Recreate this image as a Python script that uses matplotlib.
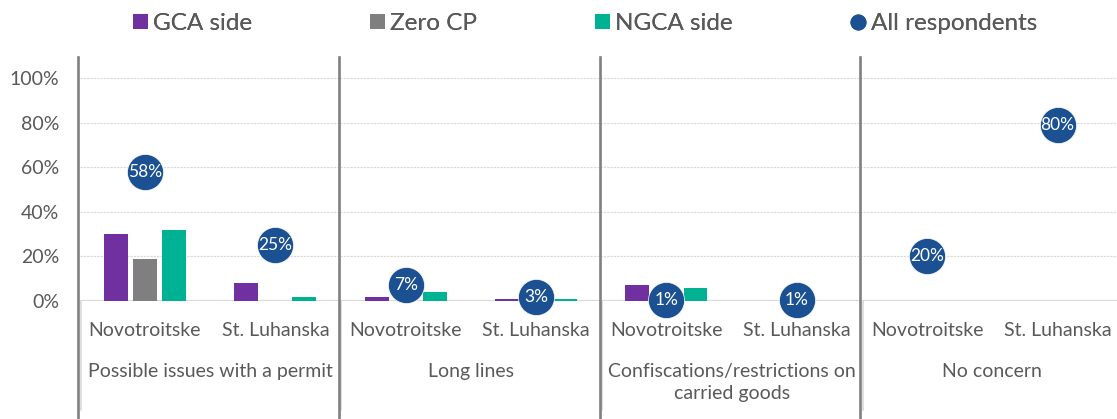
import numpy as np
import matplotlib.pyplot as plt
from matplotlib.lines import Line2D

plt.rcParams['font.family'] = ['Lato', 'DejaVu Sans']

# data
sites = ['Novotroitske', 'St. Luhanska'] * 4
groups = ['Possible issues with a permit', 'Long lines',
          'Confiscations/restrictions on\ncarried goods', 'No concern']
gca = [30, 8, 2, 1, 7, 0, 0, 0]
zero_cp = [19, 0, 0, 0, 0, 0, 0, 0]
ngca = [32, 2, 4, 1, 6, 0, 0, 0]
all_resp = [58, 25, 7, 2, 0.3, 0.3, 20, 79]
all_labels = ['58%', '25%', '7%', '3%', '1%', '1%', '20%', '80%']
legend_names = ['GCA side', 'Zero CP', 'NGCA side', 'All respondents']

c_gca = '#7030A0'
c_zero = '#7F7F7F'
c_ngca = '#00B294'
c_dot = '#1B5192'
c_txt = '#595959'

W, H = 1117, 419
fig = plt.figure(figsize=(W / 100, H / 100), dpi=100)
ax = fig.add_axes([79.8 / W, (H - 301) / H, 1043 / W, 244 / H])

x = np.arange(len(sites))
bw = 0.184
off = 0.2225
b1 = ax.bar(x - off, gca, bw, color=c_gca, zorder=3)
b2 = ax.bar(x, zero_cp, bw, color=c_zero, zorder=3)
b3 = ax.bar(x + off, ngca, bw, color=c_ngca, zorder=3)
ax.plot(x, all_resp, 'o', ms=26, color=c_dot, mec='white', mew=0.5,
        zorder=5, clip_on=False)
for xi, yi, lab in zip(x, all_resp, all_labels):
    ax.text(xi, yi, lab, ha='center', va='center', color='white',
            fontsize=12.5, zorder=6)

ymax = 244 / 2.23
ax.set_xlim(-0.5, 7.5)
ax.set_ylim(0, ymax)
ax.set_yticks(range(0, 101, 20))
ax.set_yticklabels([f'{v}%' for v in range(0, 101, 20)])
ax.tick_params(axis='y', length=0, pad=15, labelsize=14, labelcolor=c_txt)
ax.set_xticks([])
for s in ax.spines.values():
    s.set_visible(False)
for v in range(20, 101, 20):
    ax.axhline(v, color='#D9D9D9', lw=0.8, ls=(0, (2, 1)), zorder=1)
ax.axhline(0, color='#D9D9D9', lw=1.6, zorder=2)

# category labels (two levels)
for xi, s in zip(x, sites):
    ax.text(xi, -30 / 244, s, transform=ax.get_xaxis_transform(),
            ha='center', va='center', fontsize=14, color=c_txt)
for i, g in enumerate(groups):
    ax.text(2 * i + 0.5, -62 / 244, g, transform=ax.get_xaxis_transform(),
            ha='center', va='top', fontsize=14, color=c_txt, linespacing=1.35)

# separators between groups
bottom = -118 / 244
for b in [-0.5, 1.5, 3.5, 5.5]:
    ax.axvline(b + 0.006, ymin=-109 / 244, ymax=0, color='#D9D9D9', lw=1.2,
               clip_on=False, zorder=1)
    ax.axvline(b - 0.012, ymin=bottom, ymax=1, color='#808080', lw=1.9,
               clip_on=False, zorder=4)

# legend entries placed one by one like the excel legend
dot_handle = Line2D([], [], ls='none', marker='o', ms=10.5, color=c_dot)
handles = [b1, b2, b3, dot_handle]
starts = [132.5, 370, 595, 850.5]
for h, name, x0 in zip(handles, legend_names, starts):
    leg = fig.legend([h], [name], loc='center left',
                     bbox_to_anchor=(x0 / W, 1 - 23.5 / H), frameon=False,
                     fontsize=17.5, labelcolor=c_txt, handlelength=0.62,
                     handleheight=0.62, handletextpad=0.22,
                     borderpad=0, borderaxespad=0)
    fig.add_artist(leg)

fig.savefig('out.png', dpi=100)
